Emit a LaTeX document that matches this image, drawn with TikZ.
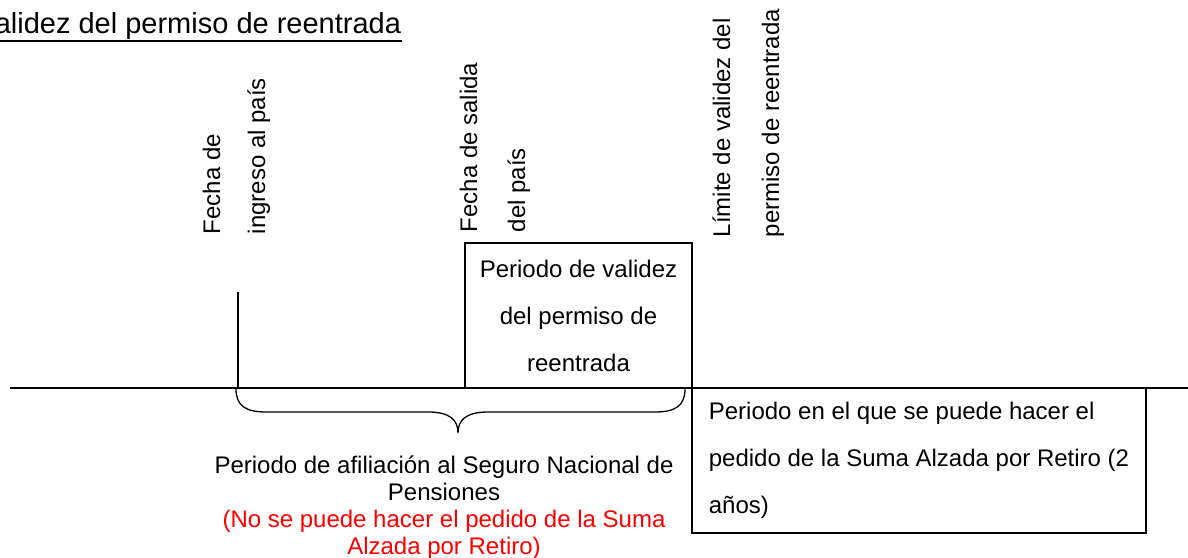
\documentclass[tikz,border=0pt]{standalone}
\usepackage{fontspec}
\setmainfont{Liberation Sans}
\begin{document}
\begin{tikzpicture}[x=1pt,y=-1pt,line width=1.6pt,
  vlabel/.style={rotate=90,anchor=base west,inner sep=0pt,font=\fontsize{24}{28}\selectfont},
  boxnode/.style={draw,line width=1.6pt,inner sep=0pt,font=\fontsize{24}{47}\selectfont},
  bracestyle/.style={line width=1.3pt}]
\useasboundingbox (0,0) rectangle (1188,557);

% title
\node[anchor=base west,inner sep=0pt,font=\fontsize{29}{35}\selectfont] (title) at (-6,33) {alidez del permiso de reentrada};
\draw[line width=2pt] (0,40.5) -- (title.east |- 0,40.5);

% vertical labels
\node[vlabel] (fd) at (220,235) {Fecha de};
\node[vlabel] (ip) at (265,235) {ingreso al país};
\node[vlabel] (fs) at (477,233) {Fecha de salida};
\node[vlabel] (dp) at (525,233) {del país};
\node[vlabel] (lv) at (730,238) {Límite de validez del};
\node[vlabel] (pr) at (779,238) {permiso de reentrada};

% boxes
\node[boxnode,minimum width=227pt,minimum height=145pt,align=center] (valid) at (578.5,315.5) {Periodo de validez\\del permiso de\\reentrada};
\node[boxnode,minimum width=454pt,minimum height=145pt,align=left] (claim) at (919,460.5) {Periodo en el que se puede hacer el\\pedido de la Suma Alzada por Retiro (2\\años)};

% timeline
\coordinate (tl) at (10,388);
\coordinate (tr) at (1188,388);
\draw (tl) -- (tr);
\coordinate (tick) at (238,292);
\draw (tick) -- (tick |- tl);

% brace
\draw[bracestyle] (236,389) .. controls (236,406) and (246,412) .. (266,412) -- (428,412)
  .. controls (450,412) and (458,420) .. (458,433)
  .. controls (458,420) and (466,412) .. (488,412) -- (655,412)
  .. controls (675,412) and (685,406) .. (685,389);

% text below brace
\node[anchor=north,inner sep=0pt,align=center,font=\fontsize{24}{27}\selectfont] (afil) at (444,455)
  {Periodo de afiliación al Seguro Nacional de\\Pensiones\\\textcolor{red}{(No se puede hacer el pedido de la Suma}\\\textcolor{red}{Alzada por Retiro)}};
\end{tikzpicture}
\end{document}
